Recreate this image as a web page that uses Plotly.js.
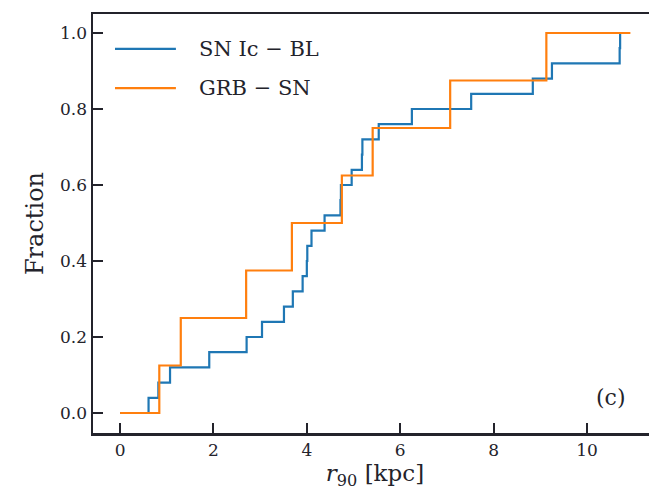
<!DOCTYPE html>
<html>
<head>
<meta charset="utf-8">
<script src="https://cdn.plot.ly/plotly-3.0.1.min.js"></script>
<style>
  html, body { margin: 0; padding: 0; background: #ffffff; overflow: hidden; }
  #chart { width: 680px; height: 492px; }
</style>
</head>
<body>
<div id="chart"></div>
<script>
// r90 offsets (kpc) of each host sample, sorted ascending
const snIcBL_r90 = [0.61, 0.82, 1.07, 1.91, 2.71, 3.04, 3.51, 3.70, 3.91, 4.00, 4.01,
                    4.10, 4.38, 4.72, 4.73, 4.96, 5.18, 5.19, 5.54, 6.25, 7.52, 8.84,
                    9.25, 10.70, 10.71];
const grbSN_r90 = [0.84, 1.30, 2.70, 3.68, 4.75, 5.41, 7.07, 9.13];

// where each cumulative curve starts and (optionally) ends
const curveStart = 0.0;
const grbCurveEnd = 10.93;

const seriesNames = ['SN Ic \u2212 BL', 'GRB \u2212 SN'];
const seriesColors = ['#1f77b4', '#ff7f0e'];

const xTicks = [0, 2, 4, 6, 8, 10];
const yTicks = [0.0, 0.2, 0.4, 0.6, 0.8, 1.0];

// empirical cumulative distribution as step points
function ecdf(values, start, end) {
  const n = values.length;
  const xs = [start], ys = [0];
  values.forEach((v, i) => { xs.push(v); ys.push((i + 1) / n); });
  if (end !== undefined) { xs.push(end); ys.push(1); }
  return { xs, ys };
}

const sn = ecdf(snIcBL_r90, curveStart);
const grb = ecdf(grbSN_r90, curveStart, grbCurveEnd);

const FONT = 'DejaVu Serif, Liberation Serif, serif';
const INK = '#23232b';

const traces = [
  { x: sn.xs, y: sn.ys, mode: 'lines', line: { shape: 'hv', color: seriesColors[0], width: 2.2 },
    name: seriesNames[0], showlegend: false },
  { x: grb.xs, y: grb.ys, mode: 'lines', line: { shape: 'hv', color: seriesColors[1], width: 2.2 },
    name: seriesNames[1], showlegend: false }
];

const axisCommon = {
  ticks: 'inside', ticklen: 10, tickwidth: 2, tickcolor: INK,
  showline: true, linecolor: INK, linewidth: 2.5, mirror: true,
  showgrid: false, zeroline: false,
  tickfont: { family: FONT, size: 17, color: INK }
};

// hand-built legend: long line samples with labels
const legendY = [0.917, 0.823];
const shapes = legendY.map((y, i) => ({
  type: 'line', xref: 'paper', yref: 'paper', x0: 0.039, x1: 0.147, y0: y, y1: y,
  line: { color: seriesColors[i], width: 2.2 }
}));
const annotations = legendY.map((y, i) => ({
  xref: 'paper', yref: 'paper', x: 0.184, y: y, xanchor: 'left', yanchor: 'middle',
  text: seriesNames[i], showarrow: false, font: { family: FONT, size: 21, color: INK }
}));
annotations.push({
  xref: 'paper', yref: 'paper', x: 0.918, y: 0.084, xanchor: 'center', yanchor: 'middle',
  text: '(c)', showarrow: false, font: { family: FONT, size: 22, color: INK }
});

const layout = {
  width: 680, height: 492,
  margin: { l: 93, r: 23, t: 14, b: 59 },
  paper_bgcolor: '#ffffff', plot_bgcolor: '#ffffff',
  showlegend: false,
  xaxis: Object.assign({}, axisCommon, {
    range: [-0.58, 11.5], tickvals: xTicks, ticktext: xTicks.map(String),
    title: { text: '<i>r</i><sub>90</sub> [kpc]', font: { family: FONT, size: 23, color: INK }, standoff: 6 }
  }),
  yaxis: Object.assign({}, axisCommon, {
    range: [-0.0526, 1.05], tickvals: yTicks, ticktext: yTicks.map(v => v.toFixed(1)),
    title: { text: 'Fraction', font: { family: FONT, size: 24, color: INK }, standoff: 10 }
  }),
  shapes: shapes,
  annotations: annotations
};

Plotly.newPlot('chart', traces, layout, { displayModeBar: false, staticPlot: true });
</script>
</body>
</html>
